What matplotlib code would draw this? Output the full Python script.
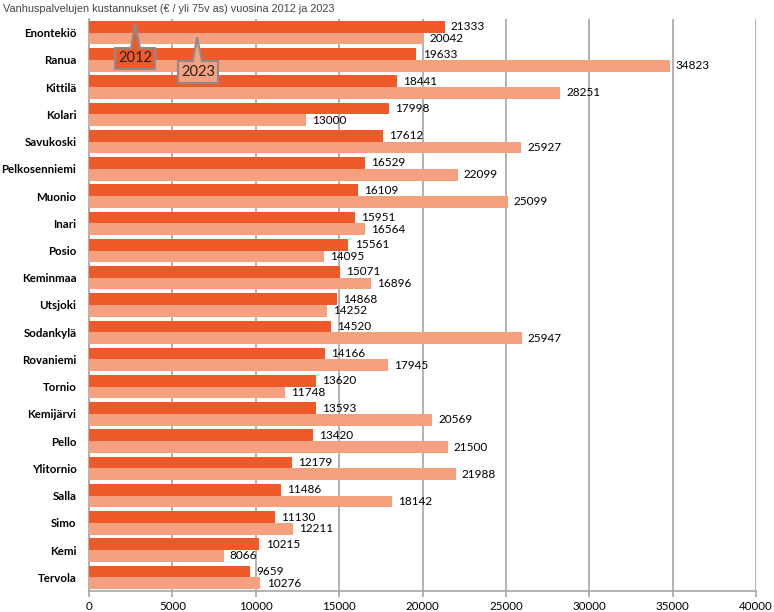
import matplotlib.pyplot as plt
import numpy as np
from matplotlib.patches import Polygon

# Municipality names, top to bottom
kunnat = ['Enontekiö', 'Ranua', 'Kittilä', 'Kolari', 'Savukoski', 'Pelkosenniemi',
          'Muonio', 'Inari', 'Posio', 'Keminmaa', 'Utsjoki', 'Sodankylä', 'Rovaniemi',
          'Tornio', 'Kemijärvi', 'Pello', 'Ylitornio', 'Salla', 'Simo', 'Kemi', 'Tervola']
v2012 = [21333, 19633, 18441, 17998, 17612, 16529, 16109, 15951, 15561, 15071, 14868,
         14520, 14166, 13620, 13593, 13420, 12179, 11486, 11130, 10215, 9659]
v2023 = [20042, 34823, 28251, 13000, 25927, 22099, 25099, 16564, 14095, 16896, 14252,
         25947, 17945, 11748, 20569, 21500, 21988, 18142, 12211, 8066, 10276]
xticks = [0, 5000, 10000, 15000, 20000, 25000, 30000, 35000, 40000]

c2012 = '#EF5A2A'
c2023 = '#F5A17F'
grid_c = '#A6A6A6'
lab_font = 'Lato'

fig = plt.figure(figsize=(7.74, 6.12), dpi=100)
ax = fig.add_axes([89 / 774, 1 - 591 / 612, 667 / 774, 572 / 612])

y = np.arange(len(kunnat))
h = 0.43
ax.barh(y - h / 2, v2012, height=h, color=c2012, zorder=3)
ax.barh(y + h / 2, v2023, height=h, color=c2023, zorder=3)

for i in range(len(kunnat)):
    ax.annotate(str(v2012[i]), (v2012[i], y[i] - h / 2), xytext=(4.5, 0), textcoords='offset points',
                va='center', ha='left', fontsize=8.5, family=lab_font)
    ax.annotate(str(v2023[i]), (v2023[i], y[i] + h / 2), xytext=(4.5, 0), textcoords='offset points',
                va='center', ha='left', fontsize=8.5, family=lab_font)

ax.set_ylim(len(kunnat) - 0.5, -0.5)
ax.set_xlim(0, 40000)
ax.set_yticks(y)
ax.set_yticklabels(kunnat, fontsize=8.3, fontweight='bold', family=lab_font)
ax.set_xticks(xticks)
ax.set_xticklabels([str(t) for t in xticks], fontsize=8.3, family=lab_font)
ax.tick_params(axis='y', length=0, pad=9)
ax.tick_params(axis='x', length=4, color=grid_c, width=1.2, pad=3)
ax.xaxis.grid(True, color=grid_c, linewidth=1.2, zorder=0)
for s in ['top', 'right']:
    ax.spines[s].set_visible(False)
ax.spines['left'].set_color(grid_c)
ax.spines['bottom'].set_color(grid_c)
ax.spines['left'].set_linewidth(1.2)
ax.spines['bottom'].set_linewidth(1.2)

fig.text(3 / 774, 1 - 9 / 612, 'Vanhuspalvelujen kustannukset (€ / yli 75v as) vuosina 2012 ja 2023',
         fontsize=7.8, color='#444444', va='center', ha='left', family='Liberation Sans')


# callout boxes (figure pixel coordinates, y from top)
def callout(x0, x1, y0, y1, tipx, tipy, w0, w1, color, text):
    pts = [(x0, y0), (w0, y0), (tipx, tipy), (w1, y0), (x1, y0), (x1, y1), (x0, y1)]
    pts = [(px / 774, 1 - py / 612) for px, py in pts]
    fig.patches.append(Polygon(pts, closed=True, facecolor=color, edgecolor='#8C8C8C',
                               linewidth=1.5, transform=fig.transFigure, zorder=10))
    fig.text((x0 + x1) / 2 / 774, 1 - (y0 + y1) / 2 / 612, text, fontsize=10.5, family=lab_font,
             ha='center', va='center', color='#222222', zorder=11)


callout(115, 155, 48, 69, 135, 24, 131, 140, c2012, '2012')
callout(178, 218, 61, 83, 197, 37, 193, 202, c2023, '2023')

fig.savefig('out.png', dpi=100)
